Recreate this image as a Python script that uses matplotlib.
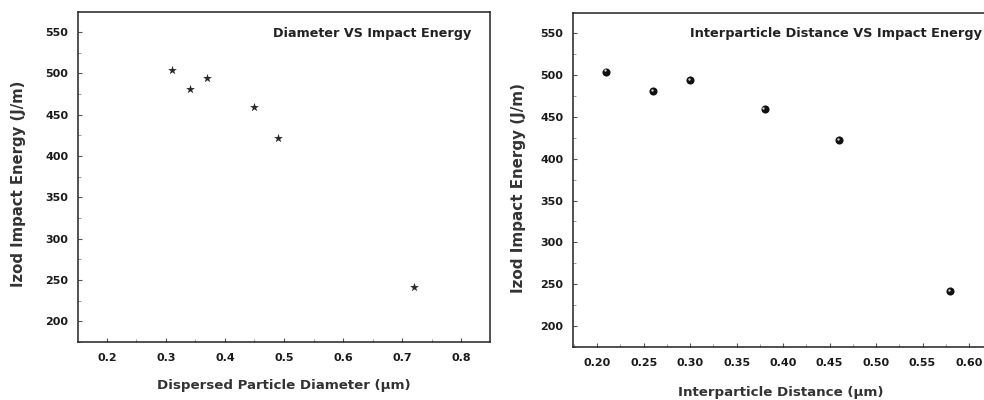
import matplotlib
matplotlib.use("Agg")
import matplotlib.pyplot as plt
from matplotlib.ticker import MultipleLocator
import matplotlib.transforms as mtransforms

plt.rcParams['font.family'] = ['DejaVu Sans']

# Data
diameter = [0.31, 0.34, 0.37, 0.45, 0.49, 0.72]
distance = [0.21, 0.26, 0.30, 0.38, 0.46, 0.58]
impact = [504, 481, 494, 459, 422, 242]

left_title = "Diameter VS Impact Energy"
right_title = "Interparticle Distance VS Impact Energy"
left_xlabel = "Dispersed Particle Diameter (\u03bcm)"
right_xlabel = "Interparticle Distance (\u03bcm)"
ylabel = "Izod Impact Energy (J/m)"

W, H = 984, 400
fig = plt.figure(figsize=(W / 100, H / 100), dpi=100)

def px(x0, y0, x1, y1):
    return [x0 / W, 1 - y1 / H, (x1 - x0) / W, (y1 - y0) / H]

ax1 = fig.add_axes(px(78, 12, 490, 342))
ax2 = fig.add_axes(px(573, 13, 988, 347))

tc = '#1a1a1a'
for ax in (ax1, ax2):
    for s in ax.spines.values():
        s.set_linewidth(1.1)
        s.set_color('#222222')
    ax.tick_params(which='major', direction='in', length=3, width=0.8, colors='#555555',
                   labelcolor=tc, labelsize=8)
    ax.tick_params(which='minor', direction='in', length=2, width=0.6, colors='#888888')
    ax.tick_params(axis='y', pad=7)
    ax.tick_params(axis='x', pad=8)
    ax.set_ylim(175, 574)
    ax.yaxis.set_major_locator(MultipleLocator(50))
    ax.yaxis.set_minor_locator(MultipleLocator(25))

# Left
ax1.scatter(diameter, impact, marker='*', s=45, color='#2a2a2a', zorder=3, linewidths=0)
ax1.set_xlim(0.151, 0.849)
ax1.xaxis.set_major_locator(MultipleLocator(0.1))
ax1.xaxis.set_minor_locator(MultipleLocator(0.05))
ax1.xaxis.set_major_formatter(plt.FuncFormatter(lambda v, p: f"{v:.1f}"))
ax1.set_xlabel(left_xlabel, fontsize=9.6, fontweight='bold', color='#333333', labelpad=11.5)
ax1.set_ylabel(ylabel, fontsize=10.7, fontweight='bold', color='#333333',
               va='center', ha='center')
ax1.yaxis.set_label_coords(-0.1456, 0.480)
ax1.text(0.955, 0.935, left_title, transform=ax1.transAxes, ha='right', va='center',
         fontsize=9.2, fontweight='bold', color='#222222')

# Right
ax2.scatter(distance, impact, marker='o', s=34, color='#111111', zorder=3, linewidths=0)
off = mtransforms.offset_copy(ax2.transData, fig=fig, x=-0.8, y=0.8, units='points')
ax2.scatter(distance, impact, marker='o', s=3, color='#cccccc', zorder=4, linewidths=0,
            transform=off)
ax2.set_xlim(0.174, 0.6204)
ax2.xaxis.set_major_locator(MultipleLocator(0.05))
ax2.xaxis.set_minor_locator(MultipleLocator(0.025))
ax2.xaxis.set_major_formatter(plt.FuncFormatter(lambda v, p: f"{v:.2f}"))
ax2.set_xlabel(right_xlabel, fontsize=9.6, fontweight='bold', color='#333333', labelpad=13)
ax2.set_ylabel(ylabel, fontsize=10.9, fontweight='bold', color='#333333',
               va='center', ha='center')
ax2.yaxis.set_label_coords(-0.1325, 0.4775)
ax2.text(0.985, 0.94, right_title, transform=ax2.transAxes, ha='right', va='center',
         fontsize=9.3, fontweight='bold', color='#222222')

for ax in (ax1, ax2):
    for lab in ax.get_xticklabels() + ax.get_yticklabels():
        lab.set_fontweight('bold')

fig.savefig("out.png", dpi=100)
